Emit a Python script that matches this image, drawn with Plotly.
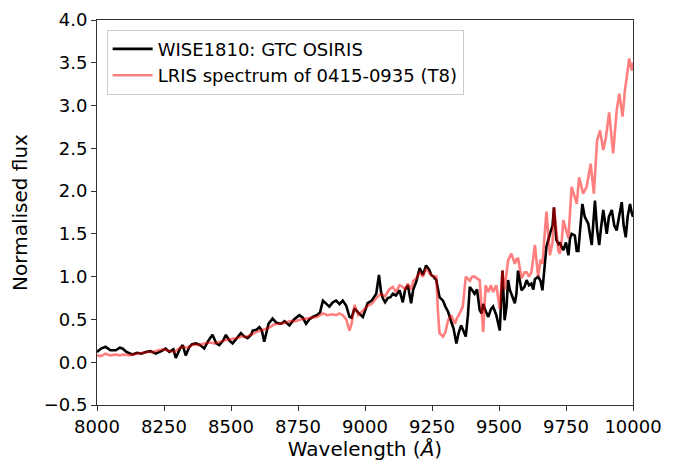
import plotly.graph_objects as go

# WISE1810 GTC OSIRIS spectrum
wise_wl = [8000, 8015, 8032, 8050, 8070, 8085, 8095, 8110, 8132, 8150, 8165, 8182, 8200, 8219, 8240,
           8256, 8270, 8285, 8294, 8310, 8320, 8331, 8345, 8355, 8369, 8385, 8400, 8415, 8431, 8445,
           8456, 8470, 8481, 8495, 8506, 8520, 8537, 8550, 8562, 8575, 8581, 8595, 8606, 8615, 8624,
           8640, 8655, 8670, 8687, 8700, 8718, 8735, 8755, 8768, 8780, 8792, 8805, 8820, 8832, 8843,
           8855, 8867, 8880, 8892, 8905, 8917, 8930, 8942, 8950, 8961, 8975, 8992, 9000, 9010, 9025,
           9042, 9052, 9060, 9066, 9075, 9085, 9095, 9104, 9115, 9129, 9141, 9150, 9160, 9172, 9180,
           9191, 9204, 9216, 9228, 9240, 9247, 9256, 9266, 9278, 9291, 9300, 9310, 9322, 9330, 9341,
           9350, 9359, 9368, 9376, 9384, 9391, 9400, 9409, 9418, 9428, 9435, 9441, 9450, 9460, 9470,
           9478, 9490, 9503, 9513, 9521, 9528, 9534, 9540, 9546, 9559, 9565, 9571, 9578, 9584, 9595,
           9603, 9612, 9621, 9628, 9634, 9646, 9655, 9662, 9670, 9677, 9690, 9700, 9705, 9714, 9722,
           9727, 9733, 9740, 9750, 9759, 9765, 9771, 9783, 9790, 9796, 9803, 9811, 9820, 9833, 9846,
           9852, 9858, 9866, 9874, 9880, 9889, 9895, 9902, 9910, 9921, 9930, 9939, 9948, 9958, 9965,
           9973, 9980, 9989, 9995, 10000]
wise_flux = [0.12, 0.16, 0.18, 0.14, 0.14, 0.17, 0.16, 0.12, 0.09, 0.11, 0.10, 0.12, 0.13, 0.10, 0.13,
             0.16, 0.12, 0.15, 0.05, 0.16, 0.20, 0.08, 0.18, 0.21, 0.22, 0.20, 0.16, 0.25, 0.32, 0.22,
             0.20, 0.25, 0.32, 0.25, 0.22, 0.28, 0.34, 0.30, 0.28, 0.32, 0.37, 0.38, 0.41, 0.37, 0.24,
             0.45, 0.51, 0.46, 0.45, 0.48, 0.43, 0.50, 0.55, 0.52, 0.45, 0.50, 0.53, 0.55, 0.58, 0.72,
             0.68, 0.65, 0.70, 0.72, 0.68, 0.72, 0.66, 0.53, 0.52, 0.63, 0.58, 0.53, 0.60, 0.69, 0.72,
             0.80, 1.02, 0.82, 0.75, 0.70, 0.75, 0.76, 0.80, 0.78, 0.84, 0.70, 0.85, 0.90, 0.69, 0.85,
             0.94, 1.10, 1.02, 1.13, 1.08, 1.02, 1.00, 0.96, 0.76, 0.72, 0.65, 0.59, 0.47, 0.40, 0.22,
             0.35, 0.43, 0.35, 0.30, 0.55, 0.88, 0.84, 0.80, 0.85, 0.61, 0.57, 0.68, 0.60, 0.53, 0.62,
             0.65, 0.55, 0.37, 1.07, 0.49, 0.65, 0.96, 0.85, 0.80, 0.69, 0.80, 1.07, 0.95, 0.84, 0.88,
             0.96, 0.90, 0.92, 0.85, 0.97, 1.00, 0.95, 0.84, 1.10, 1.35, 1.50, 1.60, 1.81, 1.43, 1.38,
             1.40, 1.35, 1.31, 1.40, 1.25, 1.45, 1.50, 1.48, 1.30, 1.30, 1.60, 1.85, 1.70, 1.62, 1.37,
             1.60, 1.89, 1.55, 1.37, 1.55, 1.78, 1.65, 1.50, 1.70, 1.78, 1.60, 1.54, 1.70, 1.87, 1.60,
             1.46, 1.70, 1.85, 1.75, 1.70]

# LRIS spectrum of 0415-0935 (T8)
lris_wl = [8000, 8015, 8032, 8050, 8070, 8085, 8100, 8120, 8132, 8150, 8170, 8190, 8210, 8230, 8250,
           8270, 8290, 8305, 8320, 8340, 8360, 8380, 8400, 8420, 8440, 8460, 8480, 8500, 8520, 8540,
           8560, 8580, 8600, 8620, 8640, 8660, 8680, 8700, 8720, 8740, 8760, 8780, 8800, 8820, 8843,
           8860, 8880, 8892, 8905, 8917, 8930, 8942, 8950, 8961, 8975, 8992, 9010, 9025, 9042, 9060,
           9075, 9090, 9104, 9115, 9129, 9141, 9150, 9160, 9172, 9180, 9191, 9204, 9216, 9228, 9240,
           9256, 9266, 9272, 9278, 9291, 9300, 9310, 9322, 9335, 9341, 9353, 9365, 9376, 9391, 9400,
           9409, 9418, 9428, 9441, 9450, 9460, 9470, 9478, 9490, 9503, 9513, 9521, 9534, 9546, 9559,
           9565, 9571, 9584, 9595, 9603, 9612, 9621, 9634, 9646, 9655, 9662, 9670, 9677, 9690, 9700,
           9705, 9714, 9722, 9727, 9735, 9740, 9750, 9759, 9765, 9771, 9783, 9790, 9799, 9814, 9827,
           9842, 9854, 9866, 9877, 9889, 9899, 9911, 9926, 9939, 9949, 9961, 9970, 9979, 9986, 9995,
           10000]
lris_flux = [0.08, 0.07, 0.10, 0.08, 0.09, 0.08, 0.09, 0.08, 0.09, 0.10, 0.11, 0.12, 0.12, 0.14, 0.15,
             0.13, 0.12, 0.16, 0.18, 0.17, 0.21, 0.20, 0.22, 0.23, 0.22, 0.24, 0.26, 0.27, 0.28, 0.30,
             0.30, 0.33, 0.36, 0.38, 0.40, 0.44, 0.45, 0.46, 0.48, 0.48, 0.50, 0.51, 0.52, 0.53, 0.57,
             0.55, 0.56, 0.55, 0.57, 0.55, 0.50, 0.37, 0.45, 0.67, 0.55, 0.60, 0.66, 0.68, 0.75, 0.80,
             0.77, 0.85, 0.88, 0.82, 0.90, 0.88, 0.85, 0.92, 0.85, 0.95, 0.98, 1.05, 1.00, 1.10, 1.04,
             1.00, 1.00, 0.60, 0.34, 0.30, 0.35, 0.49, 0.55, 0.45, 0.50, 0.57, 0.65, 1.00, 0.95, 1.00,
             1.00, 0.98, 0.96, 0.35, 0.90, 0.82, 0.90, 0.82, 0.90, 0.62, 1.07, 0.85, 1.19, 1.27, 1.15,
             1.20, 1.22, 0.98, 1.05, 1.05, 1.00, 1.05, 1.37, 1.00, 1.20, 1.15, 1.45, 1.76, 1.25, 1.40,
             1.81, 1.50, 1.30, 1.27, 1.45, 1.66, 1.55, 1.45, 1.75, 2.05, 1.93, 1.85, 2.16, 1.97, 2.05,
             2.32, 1.97, 2.59, 2.71, 2.48, 2.63, 2.92, 2.44, 2.94, 3.14, 2.87, 3.18, 3.37, 3.55, 3.41,
             3.50]

x_ticks = [8000, 8250, 8500, 8750, 9000, 9250, 9500, 9750, 10000]
y_ticks = [-0.5, 0.0, 0.5, 1.0, 1.5, 2.0, 2.5, 3.0, 3.5, 4.0]

font = "DejaVu Sans, Arial, sans-serif"

fig = go.Figure()
fig.add_trace(go.Scatter(x=wise_wl, y=wise_flux, mode="lines", name="WISE1810: GTC OSIRIS",
                         line=dict(color="black", width=2.6)))
fig.add_trace(go.Scatter(x=lris_wl, y=lris_flux, mode="lines", name="LRIS spectrum of 0415-0935 (T8)",
                         line=dict(color="rgba(255,0,0,0.5)", width=2.6)))

axis_common = dict(showline=True, mirror=True, linecolor="#333333", linewidth=1,
                   ticks="outside", ticklen=5, tickcolor="#333333", showgrid=False, zeroline=False,
                   automargin=False, tickfont=dict(size=18, color="black", family=font))

fig.update_xaxes(range=[8000, 10000], tickvals=x_ticks, ticktext=[str(t) for t in x_ticks],
                 title=dict(text="Wavelength (<i>Å</i>)", font=dict(size=20, family=font), standoff=0),
                 **axis_common)
fig.update_yaxes(range=[-0.5, 4.0], tickvals=y_ticks, ticktext=[f"{t:.1f}".replace("-", "\u2212") for t in y_ticks],
                 title=dict(text="Normalised flux", font=dict(size=20, family=font), standoff=10),
                 **axis_common)

# the page body adds an 8px offset, so the figure is a bit smaller than the window
fig.update_layout(
    width=673, height=453,
    margin=dict(l=89, r=48, t=12, b=56),
    plot_bgcolor="white", paper_bgcolor="white",
    font=dict(family=font, color="black"),
    legend=dict(x=0.018, y=0.975, xanchor="left", yanchor="top",
                bgcolor="rgba(255,255,255,0.8)", bordercolor="#cccccc", borderwidth=1,
                font=dict(size=18, family=font), itemwidth=40, tracegroupgap=0),
    showlegend=True,
)

fig.write_html("out.html")
